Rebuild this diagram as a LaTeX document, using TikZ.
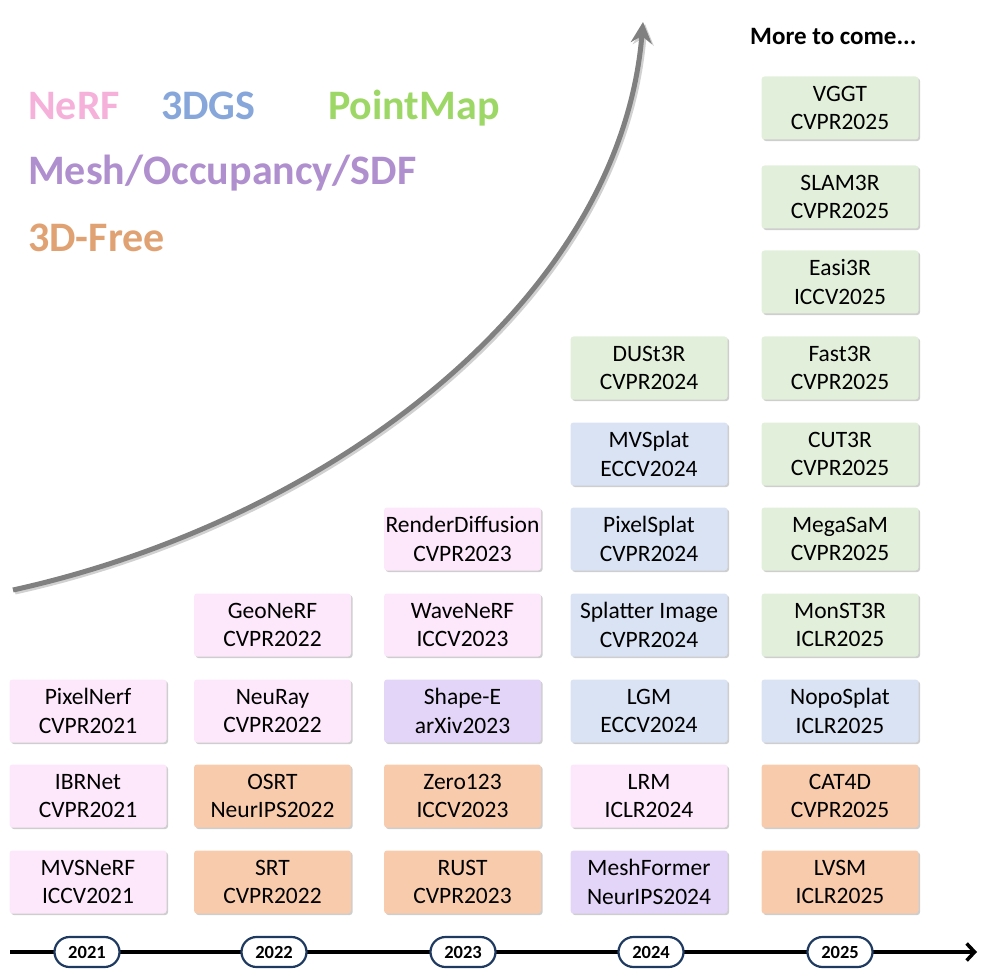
\documentclass[tikz,border=0pt]{standalone}
\usepackage{fontspec}
\setmainfont{Carlito}
\usetikzlibrary{arrows.meta,shadows}
\definecolor{nerfbox}{HTML}{FDE8FB}
\definecolor{gsbox}{HTML}{DAE3F3}
\definecolor{pmbox}{HTML}{E2EFDA}
\definecolor{meshbox}{HTML}{E3D5F7}
\definecolor{freebox}{HTML}{F8CBAD}
\definecolor{nerftxt}{HTML}{F5B1D9}
\definecolor{gstxt}{HTML}{87A7DB}
\definecolor{pmtxt}{HTML}{9DD766}
\definecolor{meshtxt}{HTML}{B08FCE}
\definecolor{freetxt}{HTML}{E0A272}
\definecolor{navy}{HTML}{1F3A60}
\definecolor{curvegray}{HTML}{808080}
\begin{document}
\begin{tikzpicture}[x=1pt,y=-1pt,
  mbox/.style={rounded corners=3pt, minimum width=157pt, minimum height=63pt,
    align=center, inner sep=0pt, font=\fontsize{23.5}{28.5}\selectfont,
    drop shadow={shadow xshift=1.6pt, shadow yshift=-1.6pt, opacity=0.35, fill=black!55}},
  nerf/.style={mbox, fill=nerfbox},
  gs/.style={mbox, fill=gsbox},
  pm/.style={mbox, fill=pmbox},
  mesh/.style={mbox, fill=meshbox},
  free/.style={mbox, fill=freebox},
  legend/.style={anchor=base west, inner sep=0pt, font=\bfseries\fontsize{42}{48}\selectfont},
  year/.style={draw=navy, line width=2.2pt, fill=white, rounded corners=15pt,
    minimum width=65pt, minimum height=30pt, inner sep=0pt,
    font=\bfseries\fontsize{18.5}{20}\selectfont},
  growth/.style={line width=5pt, draw=curvegray,
    -{Stealth[length=21pt,width=21pt,inset=7pt]}},
  growthshadow/.style={line width=5pt, draw=black!40, opacity=0.45,
    -{Stealth[length=21pt,width=21pt,inset=7pt]}},
  timeline/.style={line width=3.5pt, draw=black,
    -{Straight Barb[length=8pt,width=17pt,line width=3.5pt]}}
]
\useasboundingbox (0,0) rectangle (996,976);

% growth curve
\coordinate (cs) at (13,590);
\coordinate (ce) at (643,22);
\coordinate (css) at (15,592);
\coordinate (ces) at (645,24);
\draw[growthshadow] (css) .. controls (332,522) and (622,302) .. (ces);
\draw[growth] (cs) .. controls (330,520) and (620,300) .. (ce);

% legend
\node[legend, text=nerftxt] (lnerf) at (28,120) {NeRF};
\node[legend, text=gstxt] (lgs) at (161,120) {3DGS};
\node[legend, text=pmtxt] (lpm) at (328,120) {PointMap};
\node[legend, text=meshtxt] (lmesh) at (28,185) {Mesh/Occupancy/SDF};
\node[legend, text=freetxt] (lfree) at (28,252) {3D-Free};

\node[anchor=base west, inner sep=0pt, font=\bfseries\fontsize{25}{29}\selectfont] (more) at (750,45) {More to come...};

% column 2021
\node[nerf] (mvsnerf) at (88,882) {MVSNeRF\\ICCV2021};
\node[nerf] (ibrnet) at (88,796) {IBRNet\\CVPR2021};
\node[nerf] (pixelnerf) at (88,711) {PixelNerf\\CVPR2021};
% column 2022
\node[free] (srt) at (272.5,882) {SRT\\CVPR2022};
\node[free] (osrt) at (272.5,796) {OSRT\\NeurIPS2022};
\node[nerf] (neuray) at (272.5,711) {NeuRay\\CVPR2022};
\node[nerf] (geonerf) at (272.5,625) {GeoNeRF\\CVPR2022};
% column 2023
\node[free] (rust) at (462.5,882) {RUST\\CVPR2023};
\node[free] (zero123) at (462.5,796) {Zero123\\ICCV2023};
\node[mesh] (shapee) at (462.5,711) {Shape-E\\arXiv2023};
\node[nerf] (wavenerf) at (462.5,625) {WaveNeRF\\ICCV2023};
\node[nerf] (renderdiff) at (462.5,539) {RenderDiffusion\\CVPR2023};
% column 2024
\node[mesh] (meshformer) at (649,882) {MeshFormer\\NeurIPS2024};
\node[nerf] (lrm) at (649,796) {LRM\\ICLR2024};
\node[gs] (lgm) at (649,711) {LGM\\ECCV2024};
\node[gs] (splatter) at (649,625) {Splatter Image\\CVPR2024};
\node[gs] (pixelsplat) at (649,539) {PixelSplat\\CVPR2024};
\node[gs] (mvsplat) at (649,454) {MVSplat\\ECCV2024};
\node[pm] (dust3r) at (649,368) {DUSt3R\\CVPR2024};
% column 2025
\node[free] (lvsm) at (840,882) {LVSM\\ICLR2025};
\node[free] (cat4d) at (840,796) {CAT4D\\CVPR2025};
\node[gs] (noposplat) at (840,711) {NopoSplat\\ICLR2025};
\node[pm] (monst3r) at (840,625) {MonST3R\\ICLR2025};
\node[pm] (megasam) at (840,539) {MegaSaM\\CVPR2025};
\node[pm] (cut3r) at (840,454) {CUT3R\\CVPR2025};
\node[pm] (fast3r) at (840,368) {Fast3R\\CVPR2025};
\node[pm] (easi3r) at (840,282) {Easi3R\\ICCV2025};
\node[pm] (slam3r) at (840,197) {SLAM3R\\CVPR2025};
\node[pm] (vggt) at (840,108) {VGGT\\CVPR2025};

% timeline
\coordinate (tlstart) at (10,952);
\coordinate (tlend) at (977,952);
\draw[timeline] (tlstart) -- (tlend);
\node[year] (y2021) at (87,952) {2021};
\node[year] (y2022) at (274,952) {2022};
\node[year] (y2023) at (463,952) {2023};
\node[year] (y2024) at (651,952) {2024};
\node[year] (y2025) at (840,952) {2025};
\end{tikzpicture}
\end{document}
